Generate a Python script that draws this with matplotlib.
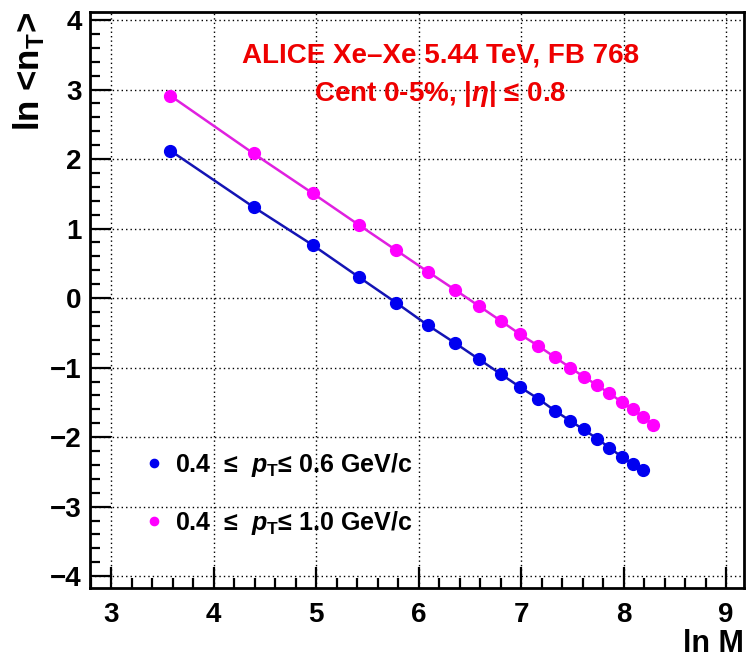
import matplotlib
matplotlib.use("Agg")
import matplotlib.pyplot as plt
from matplotlib.ticker import MultipleLocator

plt.rcParams['font.family'] = ['Liberation Sans', 'DejaVu Sans']
plt.rcParams['font.weight'] = 'bold'
plt.rcParams['axes.labelweight'] = 'bold'
plt.rcParams['mathtext.fontset'] = 'custom'
plt.rcParams['mathtext.rm'] = 'Liberation Sans:bold'
plt.rcParams['mathtext.bf'] = 'Liberation Sans:bold'
plt.rcParams['mathtext.it'] = 'Liberation Sans:bold:italic'

# ln M and ln <n_T> for the two pT windows
lnM_low = [3.58, 4.39, 4.97, 5.42, 5.78, 6.09, 6.36, 6.59, 6.80, 6.99,
           7.17, 7.33, 7.48, 7.61, 7.74, 7.86, 7.98, 8.09, 8.19]
lnn_low = [2.12, 1.31, 0.76, 0.30, -0.065, -0.39, -0.65, -0.88, -1.09, -1.28,
           -1.45, -1.62, -1.765, -1.89, -2.02, -2.15, -2.28, -2.39, -2.475]

lnM_high = [3.58, 4.39, 4.97, 5.42, 5.78, 6.09, 6.36, 6.59, 6.80, 6.99,
            7.17, 7.33, 7.48, 7.61, 7.74, 7.86, 7.98, 8.09, 8.19, 8.29]
lnn_high = [2.91, 2.08, 1.505, 1.05, 0.69, 0.38, 0.115, -0.115, -0.325, -0.52,
            -0.69, -0.85, -1.00, -1.13, -1.25, -1.37, -1.49, -1.60, -1.71, -1.82]

label_low = r'0.4  ≤  $p_{\mathrm{T}}$≤ 0.6 GeV/c'
label_high = r'0.4  ≤  $p_{\mathrm{T}}$≤ 1.0 GeV/c'

fig = plt.figure(figsize=(7.47, 6.61), dpi=100)
ax = fig.add_axes([90 / 747, 1 - 588 / 661, 654 / 747, 576 / 661])

ax.plot(lnM_low, lnn_low, '-', color='#1414b4', lw=1.8, zorder=3)
pts_low, = ax.plot(lnM_low, lnn_low, 'o', color='#0000f0', ms=8.5, zorder=4,
                   label=label_low)
ax.plot(lnM_high, lnn_high, '-', color='#e020e0', lw=1.8, zorder=3)
pts_high, = ax.plot(lnM_high, lnn_high, 'o', color='#ff00ff', ms=8.5, zorder=4,
                    label=label_high)

ax.set_xlim(2.795, 9.175)
ax.set_ylim(-4.17, 4.115)

ax.xaxis.set_major_locator(MultipleLocator(1))
ax.xaxis.set_minor_locator(MultipleLocator(0.2))
ax.yaxis.set_major_locator(MultipleLocator(1))
ax.yaxis.set_minor_locator(MultipleLocator(0.2))
ax.tick_params(which='both', direction='in', top=False, right=False, width=1.6)
ax.tick_params(which='major', length=15, labelsize=20)
ax.tick_params(which='minor', length=7.5)
ax.tick_params(axis='x', which='major', pad=10)
ax.tick_params(axis='y', which='major', pad=6)
for s in ax.spines.values():
    s.set_linewidth(2.0)

ax.grid(True, which='major', color='black', lw=1.0, ls=(0, (1, 2.2)))
ax.set_axisbelow(True)

ax.set_xlabel('ln M', fontsize=22, loc='right', labelpad=1)
ax.set_ylabel(r'ln <n$_{\mathrm{T}}$>', fontsize=25, loc='top', labelpad=2)

ax.text(0.536, 0.925, 'ALICE Xe–Xe 5.44 TeV, FB 768', transform=ax.transAxes,
        color='#ee0000', fontsize=20, ha='center', va='center')
ax.text(0.536, 0.858, r'Cent 0-5%, |$\eta$| ≤ 0.8', transform=ax.transAxes,
        color='#ee0000', fontsize=20, ha='center', va='center')

ax.legend(handles=[pts_low, pts_high], loc='center left',
          bbox_to_anchor=(0.052, 0.164), frameon=False, fontsize=18,
          markerscale=0.7, handlelength=0.6, handletextpad=0.55,
          labelspacing=1.2)

fig.savefig('out.png', dpi=100)
